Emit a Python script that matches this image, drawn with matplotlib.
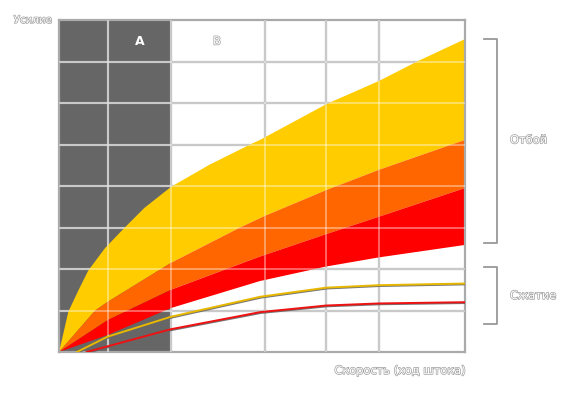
import matplotlib
matplotlib.use('Agg')
import matplotlib.pyplot as plt
import matplotlib.patheffects as pe

# ------------------------------
# Data (x: 0..100 speed, y: 0..8 force)
# ------------------------------
x_yellow_top = [0, 0.7, 2.3, 4.6, 7.2, 11.3, 15.8, 21.0, 27.6, 37.2, 47.5, 49.5, 66.0, 78.8, 88.2, 100]
y_yellow_top = [0, 0.29, 0.97, 1.45, 1.96, 2.50, 2.96, 3.47, 3.98, 4.52, 5.02, 5.11, 5.98, 6.53, 7.0, 7.54]

x_orange_top = [0, 8.9, 12.0, 27.6, 44.6, 50.7, 65.8, 78.8, 100]
y_orange_top = [0, 1.0, 1.21, 2.15, 3.0, 3.28, 3.90, 4.39, 5.11]

x_red_top = [0, 12.0, 27.6, 49.5, 65.8, 78.8, 100]
y_red_top = [0, 0.77, 1.50, 2.30, 2.84, 3.26, 3.95]

x_red_bottom = [0, 12.0, 27.6, 49.5, 65.8, 78.8, 100]
y_red_bottom = [0, 0.41, 1.06, 1.71, 2.06, 2.28, 2.58]

x_comp_yellow = [4.4, 12.0, 27.6, 49.5, 65.8, 78.8, 100]
y_comp_yellow = [0, 0.37, 0.85, 1.33, 1.55, 1.61, 1.65]
x_comp_red = [6.8, 27.6, 49.5, 65.8, 78.8, 100]
y_comp_red = [0, 0.55, 0.96, 1.12, 1.17, 1.20]

grid_x = [12.0, 27.6, 50.7, 65.8, 78.8]
grid_y = [1, 2, 3, 4, 5, 6, 7]
zone_a_end = 27.6


def band(ax, x_lo, y_lo, x_hi, y_hi, color):
    xs = list(x_hi) + list(x_lo)[::-1]
    ys = list(y_hi) + list(y_lo)[::-1]
    ax.fill(xs, ys, color=color, lw=0, zorder=2)


# ------------------------------
# Figure
# ------------------------------
fig = plt.figure(figsize=(5.62, 3.97), dpi=100)
ax = fig.add_axes([59 / 562, 45 / 397, 406 / 562, 332 / 397])
ax.set_xlim(0, 100)
ax.set_ylim(0, 8)
ax.set_xticks([])
ax.set_yticks([])
for s in ax.spines.values():
    s.set_color('#aaaaaa')
    s.set_linewidth(1.6)

# zone A background
ax.axvspan(0, zone_a_end, color='#666666', zorder=0, lw=0)

# grid below fills
for gx in grid_x:
    ax.axvline(gx, color='#aaaaaa', lw=1.6, zorder=1)
for gy in grid_y:
    ax.axhline(gy, color='#aaaaaa', lw=1.6, zorder=1)

# rebound bands
band(ax, x_orange_top, y_orange_top, x_yellow_top, y_yellow_top, '#ffcc00')
band(ax, x_red_top, y_red_top, x_orange_top, y_orange_top, '#ff6600')
band(ax, x_red_bottom, y_red_bottom, x_red_top, y_red_top, '#ff0000')

# light grid over fills
for gx in grid_x:
    ax.axvline(gx, color='white', lw=1.2, alpha=0.45, zorder=3)
for gy in grid_y:
    ax.axhline(gy, color='white', lw=1.2, alpha=0.45, zorder=3)

# compression lines
shadow = [pe.SimpleLineShadow(offset=(0.6, -0.6), shadow_color='#666666', alpha=0.9), pe.Normal()]
ax.plot(x_comp_yellow, y_comp_yellow, color='#e8b800', lw=1.4, zorder=4, path_effects=shadow)
ax.plot(x_comp_red, y_comp_red, color='#ee1111', lw=1.4, zorder=4, path_effects=shadow)

# ------------------------------
# Labels (outlined text)
# ------------------------------
outline = [pe.withStroke(linewidth=1.0, foreground='#a0a0a0')]
txt = dict(color='white', fontsize=8.2, path_effects=outline)

ax.text(20, 7.48, 'A', color='white', fontsize=9, fontweight='bold',
        ha='center', va='center', zorder=5)
ax.text(38.9, 7.48, 'B', ha='center', va='center', zorder=5, **txt)
fig.text(52 / 562, 1 - 20 / 397, 'Усилие', ha='right', va='center',
         **{**txt, 'fontsize': 7.4})
fig.text(400 / 562, 1 - 371 / 397, 'Скорость (ход штока)', ha='center', va='center', **txt)

# brackets
bx0, bx1 = 104.7, 107.9
for y0, y1 in [(2.62, 7.54), (0.67, 2.04)]:
    ax.plot([bx0, bx1, bx1, bx0], [y1, y1, y0, y0], color='#999999', lw=1.3,
            clip_on=False, zorder=5)
ax.text(111.1, 5.10, 'Отбой', ha='left', va='center', clip_on=False, **txt)
ax.text(111.1, 1.35, 'Сжатие', ha='left', va='center', clip_on=False, **txt)

plt.savefig('out.png', dpi=100)
